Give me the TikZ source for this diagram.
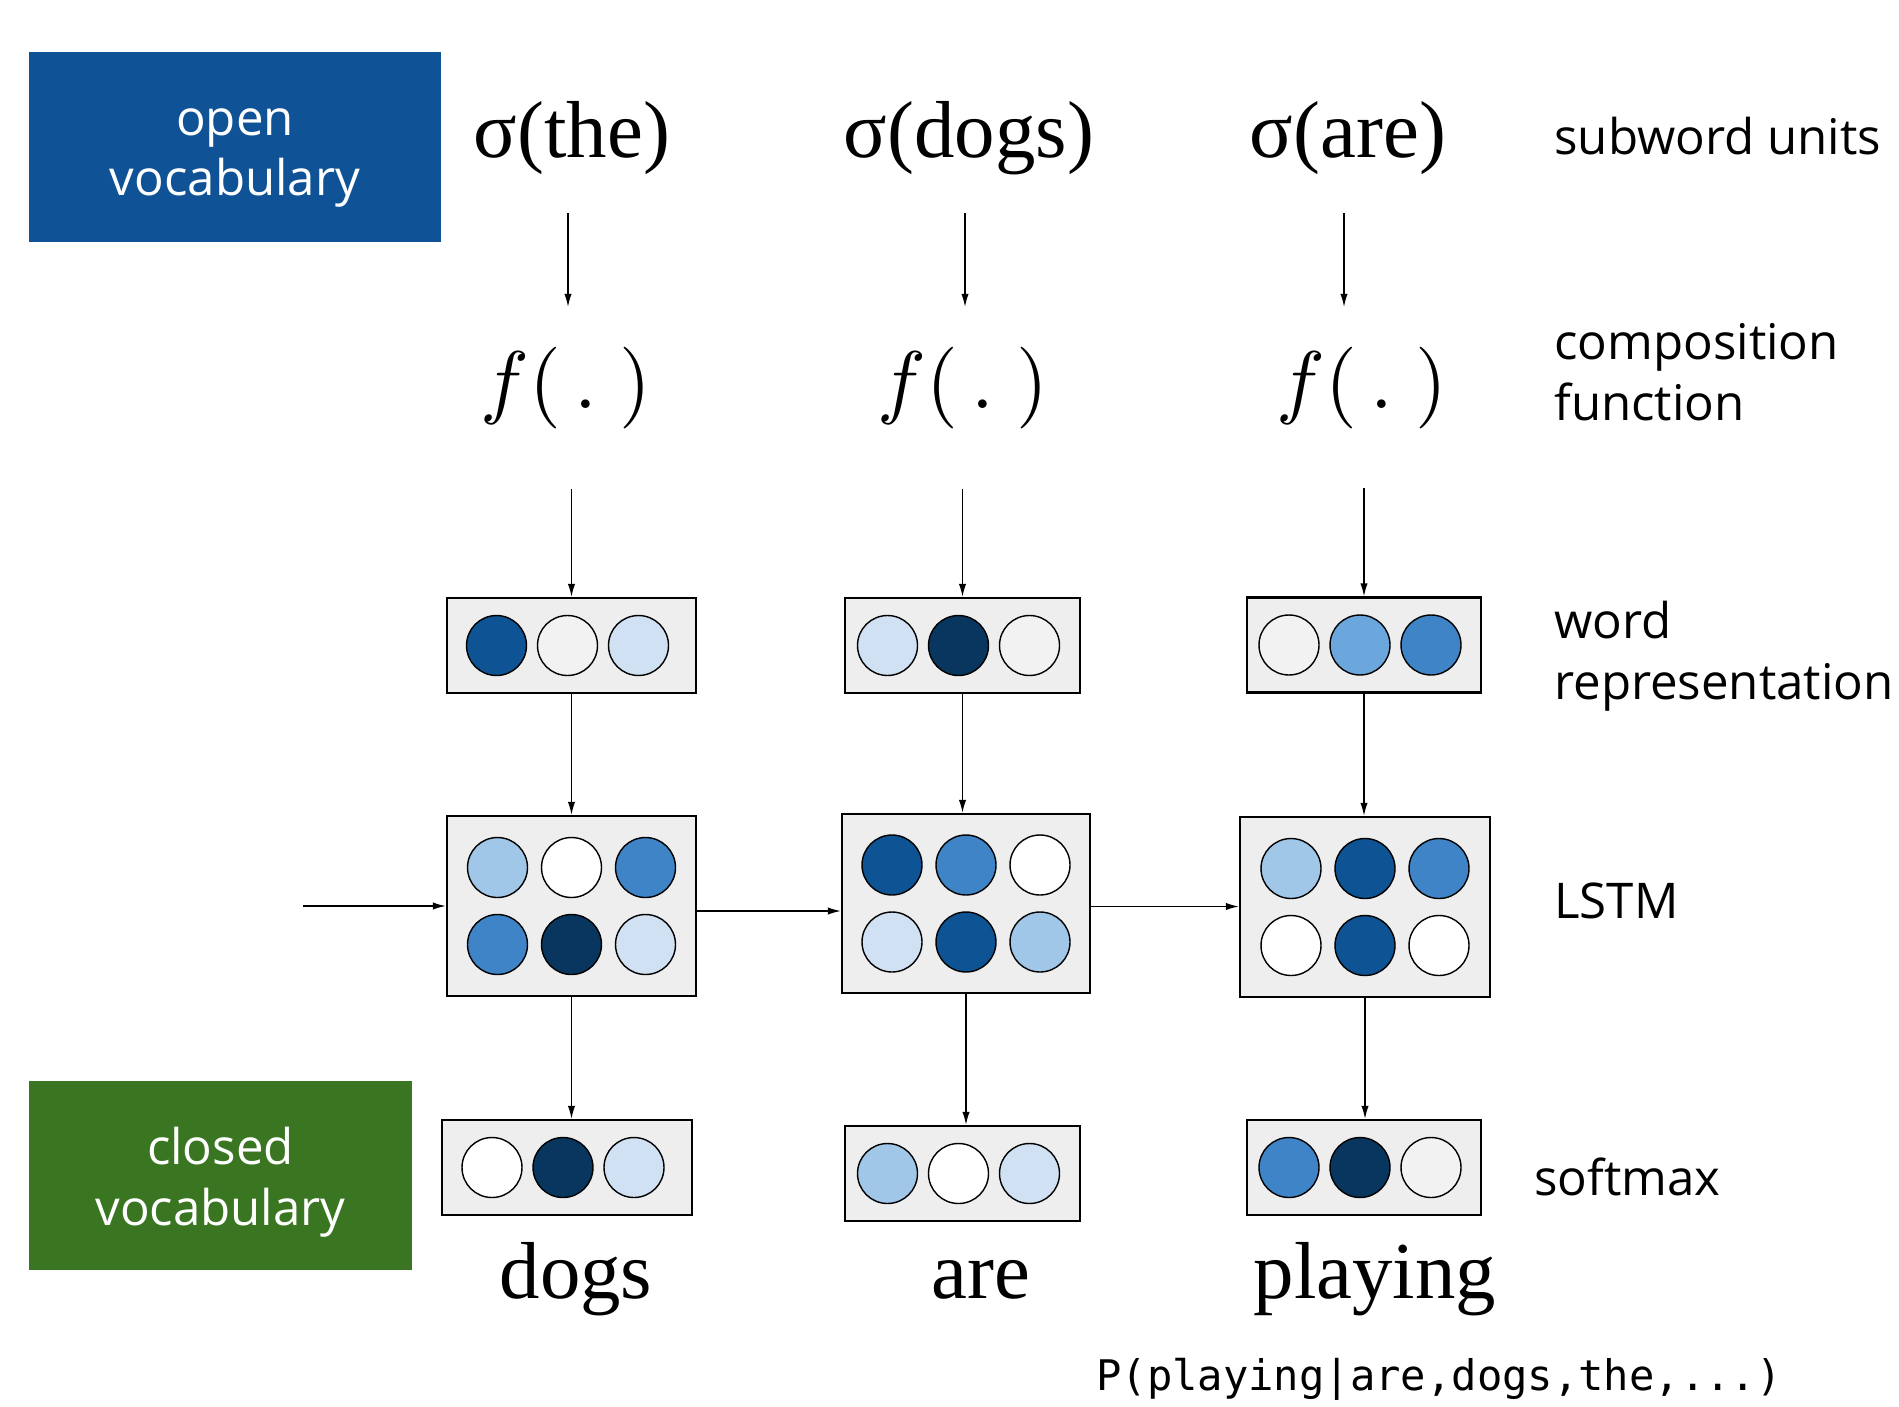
\documentclass[tikz,border=0pt]{standalone}
\usepackage{graphicx}
\usepackage{fontspec}
\setmainfont{Liberation Serif}
\setsansfont{Open Sans}
\setmonofont{DejaVu Sans Mono}
\usepackage{tikz}
\usetikzlibrary{arrows.meta, positioning, calc}

\definecolor{openblue}{HTML}{0F5396}
\definecolor{closedgreen}{HTML}{3A7621}
\definecolor{boxgray}{HTML}{EEEEEE}
\definecolor{c0}{HTML}{FFFFFF}
\definecolor{c1}{HTML}{F2F2F2}
\definecolor{c2}{HTML}{CFE1F2}
\definecolor{c3}{HTML}{A0C6E8}
\definecolor{c4}{HTML}{6BA6DC}
\definecolor{c5}{HTML}{3F84C7}
\definecolor{c6}{HTML}{0E5394}
\definecolor{c7}{HTML}{08365F}

\begin{document}
\begin{tikzpicture}[x=0.02cm, y=-0.02cm,
  vocab/.style={rectangle, text=white, align=center, inner sep=0pt, font=\sffamily\fontsize{28}{34.5}\selectfont},
  big/.style={inner sep=0pt, font=\fontsize{46}{50}\selectfont},
  fn/.style={inner sep=0pt},
  lbl/.style={inner sep=0pt, align=left, font=\sffamily\fontsize{28}{34.5}\selectfont},
  vecbox/.style={rectangle, draw=black, fill=boxgray, line width=1.2pt, inner sep=0pt},
  cell/.style={circle, draw=black, line width=0.8pt, minimum size=1.2cm, inner sep=0pt},
  arr/.style={-{Latex[length=7.5pt, width=4.2pt]}, line width=0.85pt}]
\clip (0,0) rectangle (1899,1406);

% vocabulary boxes
\node[vocab, fill=openblue, minimum width=8.26cm, minimum height=3.8cm] (open) at (235,147) {};
\node[vocab] (opentxt) at ($(open)+(0,11)$) {open\\vocabulary};
\node[vocab, fill=closedgreen, minimum width=7.66cm, minimum height=3.78cm] (closed) at (220.5,1175.5) {};
\node[vocab] (closedtxt) at ($(closed)+(0,7)$) {closed\\vocabulary};

% subword units and composition functions
\node[big, anchor=base] (sig1) at (572,157) {σ(the)};
\node[big, anchor=base] (sig2) at (969,157) {σ(dogs)};
\node[big, anchor=base] (sig3) at (1348,157) {σ(are)};
\node[fn, anchor=base] (f1) at (566,408) {\scalebox{4.65}{$f(\,.\;)$}};
\node[fn, anchor=base] (f2) at (963,408) {\scalebox{4.65}{$f(\,.\;)$}};
\node[fn, anchor=base] (f3) at (1362,408) {\scalebox{4.65}{$f(\,.\;)$}};

% word representations
\node[vecbox, minimum width=4.98cm, minimum height=1.9cm] (wr1) at (571.5,645.5) {};
\node[vecbox, minimum width=4.7cm, minimum height=1.9cm] (wr2) at (962.5,645.5) {};
\node[vecbox, minimum width=4.68cm, minimum height=1.9cm] (wr3) at (1364,645) {};

% LSTM states
\node[vecbox, minimum width=4.98cm, minimum height=3.6cm] (ls1) at (571.5,906) {};
\node[vecbox, minimum width=4.96cm, minimum height=3.58cm] (ls2) at (966,903.5) {};
\node[vecbox, minimum width=5cm, minimum height=3.6cm] (ls3) at (1365,907) {};

% softmax outputs
\node[vecbox, minimum width=5cm, minimum height=1.9cm] (sm1) at (567,1167.5) {};
\node[vecbox, minimum width=4.7cm, minimum height=1.9cm] (sm2) at (962.5,1173.5) {};
\node[vecbox, minimum width=4.68cm, minimum height=1.9cm] (sm3) at (1364,1167.5) {};

% cells
\foreach \b/\ca/\cb/\cc in {wr1/c6/c1/c2, wr2/c2/c7/c1, wr3/c1/c4/c5, sm1/c0/c7/c2, sm2/c3/c0/c2, sm3/c5/c7/c1}
  \foreach \c [count=\i] in {\ca,\cb,\cc}
    \node[cell, fill=\c] at ($(\b)+(\i*71-146,0)$) {};
\foreach \b/\ca/\cb/\cc/\cd/\ce/\cf in {ls1/c3/c0/c5/c5/c7/c2, ls2/c6/c5/c0/c2/c6/c3, ls3/c3/c6/c5/c0/c6/c0} {
  \foreach \c [count=\i] in {\ca,\cb,\cc}
    \node[cell, fill=\c] at ($(\b)+(\i*74-148,-38.5)$) {};
  \foreach \c [count=\i] in {\cd,\ce,\cf}
    \node[cell, fill=\c] at ($(\b)+(\i*74-148,38.5)$) {};
}

% output words
\node[big, anchor=base] (w1) at (576,1298) {dogs};
\node[big, anchor=base] (w2) at (981,1298) {are};
\node[big, anchor=base] (w3) at (1375,1298) {playing};
\node[inner sep=0pt, anchor=base, font=\ttfamily\fontsize{24}{28}\selectfont] (prob) at (1439,1390) {P(playing|are,dogs,the,...)};

% row labels
\node[lbl, anchor=base west] (lsub) at (1554,154) {subword units};
\node[lbl, anchor=west] (lcomp) at (1554,372) {composition\\function};
\node[lbl, anchor=west] (lword) at (1554,656) {word\\representation};
\node[lbl, anchor=west] (llstm) at (1554,901) {LSTM};
\node[lbl, anchor=west] (lsoft) at (1534,1177) {softmax};

% vertical arrows
\foreach \k in {1,2,3} {
  \draw[arr] ($(sig\k.base)+(-4,56)$) -- ($(sig\k.base)+(-4,150)$);
  \draw[arr] ($(wr\k.north)+(0,-108)$) -- (wr\k.north);
  \draw[arr] (wr\k.south) -- (wr\k.south |- ls\k.north);
  \draw[arr] (ls\k.south) -- (ls\k.south |- sm\k.north);
}

% recurrent arrows
\coordinate (h0) at (303,906);
\draw[arr] (h0) -- (ls1.west);
\draw[arr] ($(ls1.east)+(0,5)$) -- ($(ls1.east -| ls2.west)+(0,5)$);
\draw[arr] ($(ls2.east)+(0,3)$) -- ($(ls2.east -| ls3.west)+(0,3)$);
\end{tikzpicture}
\end{document}
